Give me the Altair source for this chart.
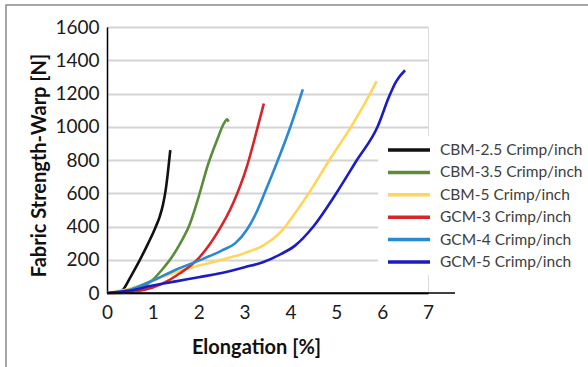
import altair as alt
import pandas as pd

series_names = [
    "CBM-2.5 Crimp/inch",
    "CBM-3.5 Crimp/inch",
    "CBM-5 Crimp/inch",
    "GCM-3 Crimp/inch",
    "GCM-4 Crimp/inch",
    "GCM-5 Crimp/inch",
]
series_colors = ["#111111", "#5b8c3b", "#ffd55a", "#d7262a", "#2a88d4", "#1c1cc4"]

cbm25_x = [0.25, 0.35, 0.5, 0.7, 0.9, 1.05, 1.15, 1.22, 1.28, 1.33, 1.38]
cbm25_y = [0, 20, 90, 190, 300, 390, 460, 530, 620, 730, 860]

cbm35_x = [0.0, 0.3, 0.6, 0.8, 1.0, 1.2, 1.4, 1.6, 1.8, 2.0, 2.2, 2.4, 2.55, 2.62, 2.65]
cbm35_y = [0, 0, 10, 40, 80, 140, 210, 300, 410, 580, 770, 920, 1020, 1045, 1030]

cbm5_x = [0.0, 0.5, 1.0, 1.5, 2.0, 2.5, 3.0, 3.4, 3.8, 4.1, 4.4, 4.85, 5.3, 5.6, 5.88]
cbm5_y = [0, 25, 75, 125, 165, 200, 240, 285, 370, 480, 600, 800, 990, 1130, 1275]

gcm3_x = [0.0, 0.4, 0.8, 1.2, 1.6, 2.0, 2.4, 2.75, 3.05, 3.25, 3.42]
gcm3_y = [0, 5, 18, 55, 120, 210, 360, 540, 760, 960, 1140]

gcm4_x = [0.0, 0.5, 1.0, 1.5, 2.0, 2.5, 2.8, 3.05, 3.25, 3.45, 3.7, 4.0, 4.27]
gcm4_y = [0, 20, 75, 140, 195, 255, 300, 380, 480, 610, 780, 1000, 1225]

gcm5_x = [0.0, 0.5, 1.0, 1.5, 2.0, 2.5, 3.0, 3.4, 3.8, 4.1, 4.5, 5.0, 5.45, 5.9, 6.15, 6.3, 6.5]
gcm5_y = [0, 15, 45, 70, 95, 120, 155, 185, 235, 285, 400, 600, 800, 1000, 1180, 1270, 1340]

x_ticks = [0, 1, 2, 3, 4, 5, 6, 7]
y_ticks = [0, 200, 400, 600, 800, 1000, 1200, 1400, 1600]

all_x = [cbm25_x, cbm35_x, cbm5_x, gcm3_x, gcm4_x, gcm5_x]
all_y = [cbm25_y, cbm35_y, cbm5_y, gcm3_y, gcm4_y, gcm5_y]

rows = []
for name, xs, ys in zip(series_names, all_x, all_y):
    for i, (xv, yv) in enumerate(zip(xs, ys)):
        rows.append({"series": name, "x": xv, "y": yv, "i": i})
df = pd.DataFrame(rows)
legend_df = pd.DataFrame({"series": series_names})

FONT = "Lato"
color_scale = alt.Scale(domain=series_names, range=series_colors)

lines = alt.Chart(df).mark_line(strokeWidth=2.6, interpolate="monotone").encode(
    x=alt.X(
        "x:Q",
        scale=alt.Scale(domain=[0, 7], nice=False),
        axis=alt.Axis(
            values=x_ticks,
            format="d",
            title="Elongation [%]",
            grid=False,
            ticks=False,
            domainColor="#000000",
            domainWidth=1.5,
            labelFontSize=19,
            labelColor="#1a1a1a",
            labelPadding=10,
            labelFlush=False,
            titleFontSize=20,
            titleFontWeight="bold",
            titleColor="#111111",
            titleX=149,
            titleY=60,
            titleBaseline="alphabetic",
        ),
    ),
    y=alt.Y(
        "y:Q",
        scale=alt.Scale(domain=[0, 1600], nice=False),
        axis=alt.Axis(
            values=y_ticks,
            format="d",
            title="Fabric Strength-Warp [N]",
            grid=True,
            gridColor="#d4d4d4",
            gridWidth=2,
            ticks=False,
            domainColor="#000000",
            domainWidth=1.5,
            labelFontSize=19,
            labelColor="#1a1a1a",
            labelPadding=8,
            labelFlush=False,
            titleFontSize=20,
            titleFontWeight="bold",
            titleColor="#111111",
            titleX=-62,
            titleY=138,
            titleBaseline="alphabetic",
        ),
    ),
    color=alt.Color("series:N", scale=color_scale, legend=None),
    order="i:Q",
)

x_ext = alt.Chart(pd.DataFrame({"a": [0]})).mark_rule(color="#000000", strokeWidth=1.5).encode(
    x=alt.value(0), x2=alt.value(348), y=alt.value(266)
)

frame = alt.Chart(pd.DataFrame({"a": [0]})).mark_rect(
    fill=None, stroke="#8a8a8a", strokeWidth=1.5
).encode(
    x=alt.value(-101), x2=alt.value(700), y=alt.value(-22), y2=alt.value(500)
)

legend_box = alt.Chart(pd.DataFrame({"a": [0]})).mark_rect(fill="white", stroke=None).encode(
    x=alt.value(271), x2=alt.value(481), y=alt.value(109), y2=alt.value(248)
)

leg_y = alt.Y(
    "series:N",
    scale=alt.Scale(type="point", domain=series_names, range=[123, 235], padding=0),
    axis=None,
)

legend_rules = alt.Chart(legend_df).mark_rule(strokeWidth=3.5).encode(
    x=alt.value(281),
    x2=alt.value(323),
    y=leg_y,
    color=alt.Color("series:N", scale=color_scale, legend=None),
)

legend_text = alt.Chart(legend_df).mark_text(
    align="left", baseline="middle", fontSize=15.5, color="#404040", font=FONT
).encode(
    x=alt.value(333),
    y=leg_y,
    text="series:N",
)

legend_layer = alt.layer(legend_box, legend_rules, legend_text)

chart = alt.layer(frame, lines, x_ext, legend_layer).resolve_scale(y="independent").properties(
    width=321,
    height=266,
    autosize=alt.AutoSizeParams(type="none"),
    padding={"left": 107, "top": 27, "right": 160, "bottom": 74},
    background="white",
).configure_view(stroke=None).configure(font=FONT)

chart.save("out.html", embed_options={"renderer": "svg", "actions": False})
